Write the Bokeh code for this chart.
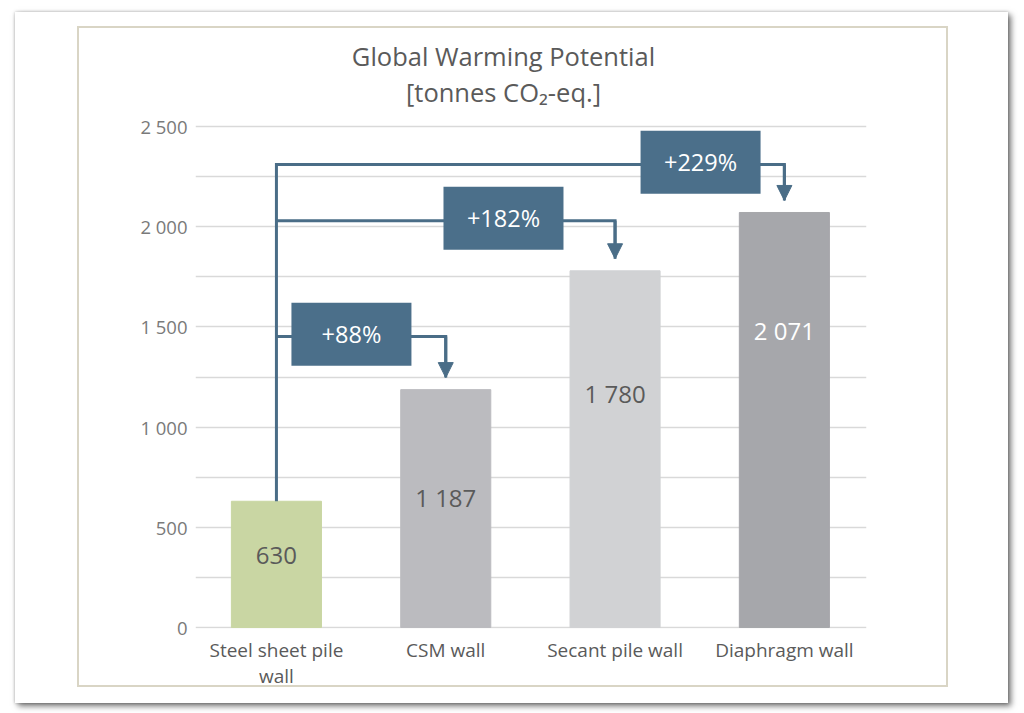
#Global Warming Potential bar chart with percentage connectors, made with bokeh

##### IMPORT NECESSARY MODULES #####
from bokeh.plotting import figure
from bokeh.models import ColumnDataSource, FixedTicker, Arrow, NormalHead
from bokeh.layouts import column
from bokeh.core.properties import value
from bokeh.embed import file_html
from bokeh.resources import INLINE

#### DATA ####
#wall types and their global warming potential [tonnes CO2-eq.]
categories = ["Steel sheet pile wall", "CSM wall", "Secant pile wall", "Diaphragm wall"]
gwp = [630, 1187, 1780, 2071]
bar_colors = ["#c9d6a3", "#bbbbbf", "#d1d2d4", "#a6a7ab"]

#increase compared to the steel sheet pile wall
pct_labels = ["+88%", "+182%", "+229%"]

#y axis ticks
y_ticks = [0, 500, 1000, 1500, 2000, 2500]

#title lines
title_lines = ["Global Warming Potential", "[tonnes CO\u2082-eq.]"]

#### LAYOUT BITS (where the labels and connectors sit) ####
label_y = [360, 650, 1170, 1480]
label_colors = ["#5a5a5a", "#5a5a5a", "#5a5a5a", "#ffffff"]
link_y = [1452, 2030, 2310]
box_x = [0.443, 1.341, 2.505]
title_x = 1.341
title_y = [2854, 2670]
wrapped = {"Steel sheet pile wall": "Steel sheet pile\nwall"}

font = "Open Sans"
link_color = "#4a6d87"
box_color = "#4b6f8a"
frame_color = "#d9d5c5"

xpos = list(range(len(categories)))

#### FIGURE ####
#transparent figure the size of the whole card, the frame runs up to the top
#so the title can sit in it
p = figure(x_range=(-0.478, 3.485), y_range=(-5, 3069),
           width=993, height=691,
           min_border_left=180, min_border_right=142,
           min_border_top=0, min_border_bottom=75,
           output_backend="svg", toolbar_location=None)

p.background_fill_color = None
p.border_fill_color = None
p.outline_line_color = None

#title on two lines
p.text(x=[title_x] * len(title_lines), y=title_y, text=title_lines,
       text_font=value(font), text_font_size="25.5px", text_color="#5a5a5a",
       text_align="center", text_baseline="middle")

#x axis with the wall names
p.xaxis.ticker = FixedTicker(ticks=xpos)
p.xaxis.major_label_overrides = {i: wrapped.get(c, c) for i, c in enumerate(categories)}
p.xaxis.major_label_text_font = font
p.xaxis.major_label_text_font_size = "19px"
p.xaxis.major_label_text_color = "#5a5a5a"
p.xaxis.major_label_text_line_height = 1.0
p.xaxis.major_label_standoff = 8
p.xaxis.major_tick_out = 0
p.xaxis.major_tick_in = 0
p.xaxis.axis_line_color = None
p.xaxis.major_tick_line_color = None
p.xaxis.minor_tick_line_color = None

#y axis, grid every 250
p.yaxis.ticker = FixedTicker(ticks=y_ticks, minor_ticks=[t + 250 for t in y_ticks[:-1]])
p.yaxis.major_label_overrides = {t: f"{t:,}".replace(",", " ") for t in y_ticks}
p.yaxis.major_label_text_font = font
p.yaxis.major_label_text_font_size = "18.5px"
p.yaxis.major_label_text_color = "#7a7a7a"
p.yaxis.major_label_standoff = 4
p.yaxis.major_tick_out = 0
p.yaxis.major_tick_in = 0
p.yaxis.axis_line_color = None
p.yaxis.major_tick_line_color = None
p.yaxis.minor_tick_line_color = None

p.xgrid.visible = False
p.ygrid.grid_line_color = "#d9d9d9"
p.ygrid.grid_line_width = 1.5
p.ygrid.minor_grid_line_color = "#d9d9d9"
p.ygrid.minor_grid_line_width = 1.5

#### BARS ####
bars = ColumnDataSource(data=dict(
    x=xpos, top=gwp, color=bar_colors,
    label=[f"{v:,}".replace(",", " ") for v in gwp],
    label_y=label_y, label_color=label_colors))

p.vbar(x="x", top="top", width=0.532, color="color", source=bars)
p.text(x="x", y="label_y", text="label", text_color="label_color",
       text_font=value(font), text_font_size="24px",
       text_align="center", text_baseline="middle", source=bars)

#### CONNECTORS ####
targets = xpos[1:]
tips = [gwp[k] + 60 for k in targets]

xs = []
ys = []
for i, k in enumerate(targets):
    if i == len(targets) - 1:
        #the longest one also carries the vertical trunk from the first bar
        xs.append([0, 0, k, k])
        ys.append([gwp[0], link_y[i], link_y[i], tips[i]])
    else:
        xs.append([0, k, k])
        ys.append([link_y[i], link_y[i], tips[i]])

p.multi_line(xs=xs, ys=ys, line_color=link_color, line_width=3, line_join="miter")

heads = ColumnDataSource(data=dict(x=targets, y0=link_y, y1=tips))
p.add_layout(Arrow(end=NormalHead(size=15, fill_color=link_color, line_color=link_color, line_width=1),
                   x_start="x", y_start="y0", x_end="x", y_end="y1",
                   line_color=link_color, line_width=3, source=heads))

#percentage boxes
boxes = ColumnDataSource(data=dict(x=box_x, y=[v + 12 for v in link_y], text=pct_labels))
p.rect(x="x", y="y", width=120, height=63, width_units="screen", height_units="screen",
       fill_color=box_color, line_color=None, source=boxes)
p.text(x="x", y="y", text="text", text_color="white", text_font=value(font),
       text_font_size="23.5px", text_align="center", text_baseline="middle", source=boxes)

#### CARD WITH SHADOW AND THIN INNER FRAME ####
#the inner frame is painted as four strips in the card background
strip = f"linear-gradient({frame_color},{frame_color})"
card_background = ", ".join([
    f"{strip} 62px 14px / 871px 2px no-repeat",
    f"{strip} 62px 673px / 871px 2px no-repeat",
    f"{strip} 62px 14px / 2px 661px no-repeat",
    f"{strip} 931px 14px / 2px 661px no-repeat",
    "#ffffff",
])

card = column(p, margin=(12, 0, 0, 15),
              styles={"background": card_background,
                      "box-shadow": "3px 3px 6px rgba(0,0,0,0.55), 0 0 3px rgba(0,0,0,0.25)"})

open("out.html", "w").write(file_html(card, INLINE))
